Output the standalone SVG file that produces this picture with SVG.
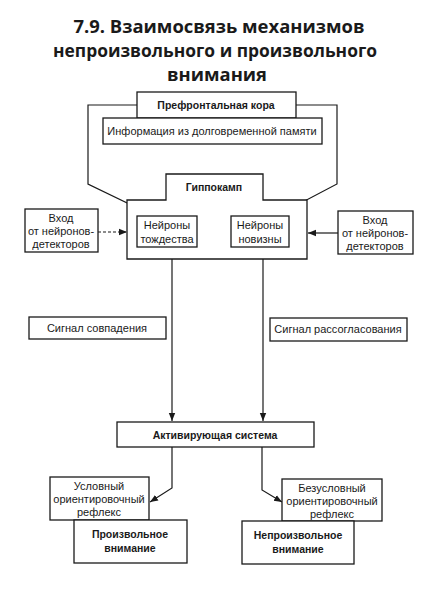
<svg xmlns="http://www.w3.org/2000/svg" width="434" height="597" viewBox="0 0 434 597">
<defs>
<marker id="arr" viewBox="0 0 10 10" refX="10" refY="5" markerWidth="8" markerHeight="8" markerUnits="userSpaceOnUse" orient="auto">
<path d="M0,1 L10,5 L0,9 Z" fill="#1a1a1a"/>
</marker>
<style>
.box{fill:#fff;stroke:#1a1a1a;stroke-width:1.3}
.ln{fill:none;stroke:#1a1a1a;stroke-width:1.2}
.t{font-family:"Liberation Sans",Arial,sans-serif;font-size:11px;fill:#1a1a1a;text-anchor:middle}
.b{font-family:"Liberation Sans",Arial,sans-serif;font-size:10.5px;font-weight:bold;fill:#1a1a1a;text-anchor:middle}
.title{font-family:"Open Sans","Noto Sans",sans-serif;font-size:17px;font-weight:bold;fill:#1a1a1a;text-anchor:middle}
</style>
</defs>
<rect width="434" height="597" fill="#fff"/>
<g id="title">
<text class="title" x="219" y="33" textLength="291" lengthAdjust="spacingAndGlyphs">7.9. Взаимосвязь механизмов</text>
<text class="title" x="215" y="57" textLength="324" lengthAdjust="spacingAndGlyphs">непроизвольного и произвольного</text>
<text class="title" x="217" y="81" textLength="100" lengthAdjust="spacingAndGlyphs">внимания</text>
</g>
<g id="connectors">
<path class="ln" d="M137,105 H88 V184 L152,215" marker-end="url(#arr)"/>
<path class="ln" d="M296,105 H337 V184 L278,215" marker-end="url(#arr)"/>
<path class="ln" d="M98,232 H127" stroke-dasharray="3,2" marker-end="url(#arr)"/>
<path class="ln" d="M338,233 H308" marker-end="url(#arr)"/>
<path class="ln" d="M172,247 V421" marker-end="url(#arr)"/>
<path class="ln" d="M263,247 V421" marker-end="url(#arr)"/>
<path class="ln" d="M172,447 V488 L150,502" marker-end="url(#arr)"/>
<path class="ln" d="M262,447 V490 L282,502" marker-end="url(#arr)"/>
</g>
<g id="prefrontal">
<rect class="box" x="137" y="92" width="159" height="26"/>
<text class="b" x="216" y="109">Префронтальная кора</text>
</g>
<g id="memory">
<rect class="box" x="103" y="118" width="219" height="26"/>
<text class="t" x="212" y="135">Информация из долговременной памяти</text>
</g>
<g id="hippocampus">
<path class="box" d="M127,200 H166 V174 H263 V200 H307 V259 H127 Z"/>
<text class="b" x="214" y="191">Гиппокамп</text>
</g>
<g id="identity">
<rect class="box" x="137" y="216" width="60" height="31"/>
<text class="t" x="167" y="229">Нейроны</text>
<text class="t" x="167" y="243">тождества</text>
</g>
<g id="novelty">
<rect class="box" x="231" y="216" width="58" height="31"/>
<text class="t" x="260" y="229">Нейроны</text>
<text class="t" x="260" y="243">новизны</text>
</g>
<g id="input-left">
<rect class="box" x="25" y="209" width="73" height="43"/>
<text class="t" x="61" y="222">Вход</text>
<text class="t" x="61" y="235">от нейронов-</text>
<text class="t" x="61" y="248">детекторов</text>
</g>
<g id="input-right">
<rect class="box" x="338" y="211" width="75" height="43"/>
<text class="t" x="375" y="224">Вход</text>
<text class="t" x="375" y="237">от нейронов-</text>
<text class="t" x="375" y="250">детекторов</text>
</g>
<g id="match">
<rect class="box" x="29" y="317" width="137" height="22"/>
<text class="t" x="97" y="332">Сигнал совпадения</text>
</g>
<g id="mismatch">
<rect class="box" x="270" y="318" width="137" height="23"/>
<text class="t" x="338" y="333">Сигнал рассогласования</text>
</g>
<g id="activating">
<rect class="box" x="117" y="422" width="197" height="25"/>
<text class="b" x="215" y="439">Активирующая система</text>
</g>
<g id="conditioned">
<rect class="box" x="50" y="477" width="99" height="43"/>
<text class="t" x="99" y="490">Условный</text>
<text class="t" x="99" y="503">ориентировочный</text>
<text class="t" x="99" y="516">рефлекс</text>
</g>
<g id="voluntary">
<rect class="box" x="74" y="520" width="113" height="43"/>
<text class="b" x="130" y="538">Произвольное</text>
<text class="b" x="130" y="552">внимание</text>
</g>
<g id="unconditioned">
<rect class="box" x="282" y="479" width="100" height="42"/>
<text class="t" x="332" y="492">Безусловный</text>
<text class="t" x="332" y="505">ориентировочный</text>
<text class="t" x="332" y="518">рефлекс</text>
</g>
<g id="involuntary">
<rect class="box" x="242" y="521" width="112" height="43"/>
<text class="b" x="298" y="539">Непроизвольное</text>
<text class="b" x="298" y="553">внимание</text>
</g>
</svg>
